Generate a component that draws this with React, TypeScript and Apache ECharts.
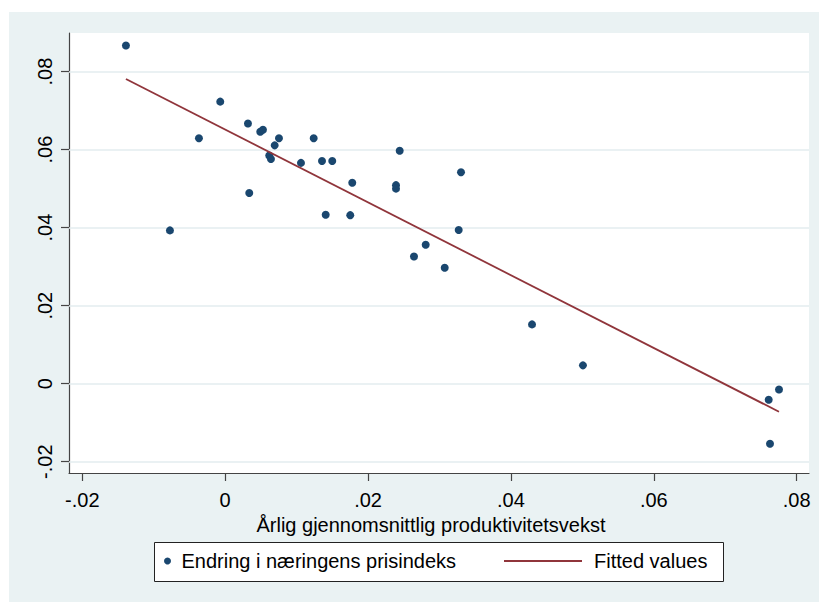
import React, { useEffect, useRef } from "react";
import * as echarts from "echarts";

// Scatter: annual average productivity growth (x) vs change in price index (y)
const prodGrowth = [
  -0.01389, -0.00773, -0.00367, -0.00069, 0.00319, 0.00337, 0.00491, 0.00529,
  0.00753, 0.00693, 0.00617, 0.00641, 0.01061, 0.01239, 0.01355, 0.01499,
  0.01779, 0.01407, 0.01751, 0.02443, 0.02391, 0.02391, 0.03301, 0.03269,
  0.02807, 0.02643, 0.03073, 0.04295, 0.05008, 0.07608, 0.07752, 0.07626,
];
const priceChange = [
  0.0867, 0.0393, 0.0629, 0.0723, 0.0667, 0.0489, 0.0646, 0.0651,
  0.0629, 0.0611, 0.0585, 0.0576, 0.0566, 0.0629, 0.0571, 0.0571,
  0.0515, 0.0433, 0.0432, 0.0597, 0.0509, 0.05, 0.0542, 0.0394,
  0.0356, 0.0326, 0.0297, 0.0152, 0.0047, -0.0041, -0.0015, -0.0154,
];
// Fitted values (endpoints of the fitted line)
const fitX = [-0.01389, 0.07752];
const fitY = [0.0781, -0.0072];

const xTicks = [-0.02, 0, 0.02, 0.04, 0.06, 0.08];
const yTicks = [-0.02, 0, 0.02, 0.04, 0.06, 0.08];

const scatterName = "Endring i næringens prisindeks";
const fitName = "Fitted values";
const xTitle = "Årlig gjennomsnittlig produktivitetsvekst";

const FONT = "'Liberation Sans', Arial, sans-serif";

const fmt = (v: number) => {
  if (Math.abs(v) < 1e-9) return "0";
  return v.toFixed(2).replace("0.", ".");
};

export default function App() {
  const ref = useRef<HTMLDivElement>(null);
  useEffect(() => {
    if (!ref.current) return;
    const chart = echarts.init(ref.current, null, { renderer: "svg" });
    const axisLineStyle = { color: "#444", width: 1.2 };
    chart.setOption({
      animation: false,
      grid: {
        left: 69,
        top: 33,
        right: 10,
        bottom: 129,
        show: true,
        backgroundColor: "#ffffff",
        borderWidth: 0,
      },
      xAxis: {
        type: "value",
        min: -0.02186,
        max: 0.08172,
        name: xTitle,
        nameLocation: "middle",
        nameGap: 38,
        nameTextStyle: { fontSize: 20, color: "#000", fontFamily: FONT, padding: [0, 16, 0, 0] },
        axisLine: { show: true, onZero: false, lineStyle: axisLineStyle },
        axisTick: { show: true, length: 8, customValues: xTicks, lineStyle: axisLineStyle },
        axisLabel: {
          customValues: xTicks,
          formatter: fmt,
          fontSize: 20,
          color: "#000",
          fontFamily: FONT,
          margin: 17,
        },
        splitLine: { show: false },
      },
      yAxis: {
        type: "value",
        min: -0.0229,
        max: 0.0899,
        axisLine: { show: true, onZero: false, lineStyle: axisLineStyle },
        axisTick: { show: true, length: 8, customValues: yTicks, lineStyle: axisLineStyle },
        axisLabel: {
          customValues: yTicks,
          formatter: fmt,
          rotate: 90,
          fontSize: 20,
          color: "#000",
          fontFamily: FONT,
          margin: 14,
        },
        splitLine: { show: false },
      },
      graphic: [
        {
          type: "rect",
          z: 1,
          shape: { x: 154.5, y: 542.5, width: 569, height: 39 },
          style: { fill: "#ffffff", stroke: "#222", lineWidth: 1 },
        },
      ],
      legend: [
        {
          data: [scatterName],
          left: 164,
          top: 551,
          padding: 0,
          itemWidth: 18,
          itemHeight: 7,
          icon: "circle",
          textStyle: { fontSize: 20, color: "#000", fontFamily: FONT },
        },
        {
          data: [{ name: fitName, icon: "rect" }],
          left: 504,
          top: 551,
          padding: 0,
          itemWidth: 78,
          itemHeight: 2,
          textStyle: { fontSize: 20, color: "#000", fontFamily: FONT, padding: [0, 0, 0, 7] },
        },
      ],
      series: [
        {
          type: "scatter",
          name: scatterName,
          data: prodGrowth.map((x, i) => [x, priceChange[i]]),
          symbolSize: 8,
          itemStyle: { color: "#1a476f", opacity: 1 },
          z: 2,
          markLine: {
            z: 1,
            silent: true,
            symbol: "none",
            label: { show: false },
            lineStyle: { color: "#e3ecef", width: 1.6, type: "solid" },
            data: yTicks.map((v) => ({ yAxis: v })),
          },
        },
        {
          type: "line",
          name: fitName,
          data: fitX.map((x, i) => [x, fitY[i]]),
          symbol: "none",
          lineStyle: { color: "#90353b", width: 1.8 },
          itemStyle: { color: "#90353b" },
          z: 3,
        },
      ],
    });
    return () => chart.dispose();
  }, []);
  return (
    <div style={{ position: "fixed", left: 0, top: 0, width: 819, height: 602, background: "#ffffff" }}>
      <div
        style={{ position: "absolute", left: 9, top: 12, width: 810, height: 590, background: "#eaf2f3" }}
      />
      <div ref={ref} style={{ position: "absolute", left: 0, top: 0, width: 819, height: 602 }} />
    </div>
  );
}
